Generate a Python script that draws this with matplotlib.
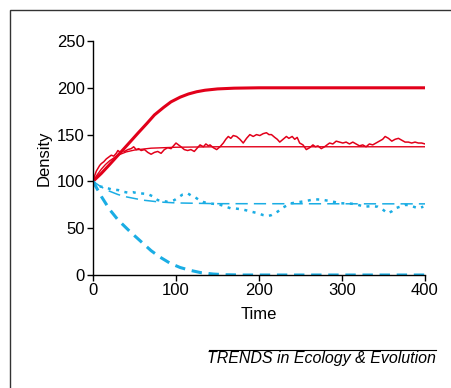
import matplotlib
matplotlib.use("Agg")
import matplotlib.pyplot as plt
from matplotlib.patches import Rectangle
from matplotlib.lines import Line2D

plt.rcParams['font.family'] = ['Liberation Sans', 'DejaVu Sans']

RED = "#E2001A"
BLUE = "#1AADE4"

# thick red: host density, no parasite
t_thick_red = [0, 10, 20, 34, 45, 54, 65, 74, 85, 94, 105, 115, 125, 135, 150, 170, 200, 400]
d_thick_red = [100, 108.5, 118, 131.7, 142.5, 151.4, 162, 171, 179, 185, 190, 193.4, 195.8, 197.4, 198.8, 199.6, 200, 200]

# thin smooth red: deterministic host
t_thin_red = [0, 5, 10, 15, 20, 30, 40, 50, 70, 100, 150, 400]
d_thin_red = [100, 107, 113, 118, 122, 128, 131.5, 133.5, 135.5, 136.5, 137, 137]

# noisy red: stochastic host
t_noisy_red = [0, 2, 4, 6, 8, 10, 13, 16, 19, 22, 25, 28, 30, 33, 36, 38, 42, 46, 49, 52,
               55, 58, 62, 66, 70, 74, 78, 82, 86, 90, 94, 97, 100, 103, 106, 110, 114,
               118, 122, 126, 129, 133, 136, 139, 141, 145, 149, 153, 157, 160, 163, 166,
               169, 173, 177, 181, 185, 189, 193, 197, 201, 205, 209, 212, 215, 219, 222,
               225, 229, 233, 236, 240, 243, 246, 249, 253, 257, 261, 265, 268, 271, 275,
               279, 282, 285, 289, 293, 297, 301, 305, 309, 313, 317, 321, 325, 329, 333,
               337, 341, 345, 349, 352, 356, 360, 364, 368, 372, 376, 380, 384, 388, 392,
               396, 400]
d_noisy_red = [100, 106, 111, 114, 117, 119, 121, 124, 126, 128, 127, 130, 133, 131, 133, 132,
               134, 135, 137, 134, 135, 133, 134, 131, 129, 131, 132, 130, 134, 136, 135, 138,
               141, 139, 137, 134, 133, 134, 132, 136, 139, 137, 140, 138, 139, 136, 134, 137,
               141, 145, 148, 146, 149, 148, 145, 141, 146, 150, 148, 150, 149, 151, 152, 150,
               150, 147, 145, 142, 145, 148, 146, 148, 145, 147, 141, 139, 134, 136, 139, 137,
               138, 135, 137, 139, 141, 140, 143, 142, 141, 142, 140, 142, 140, 138, 139, 137,
               140, 139, 141, 143, 145, 148, 146, 143, 145, 146, 144, 142, 142, 141, 142, 141,
               141, 140]

# thick blue dashed: parasite-free decline
t_thick_blue = [0, 10, 20, 30, 45, 60, 70, 80, 93, 105, 117, 130, 145, 160, 180, 400]
d_thick_blue = [100, 84, 70, 59, 46, 34, 26, 19.5, 12.5, 8, 5, 2.5, 1, 0.3, 0, 0]

# thin blue dashed: deterministic
t_thin_blue = [0, 10, 20, 30, 40, 60, 80, 100, 150, 400]
d_thin_blue = [100, 94, 89.5, 86, 83.5, 80, 78, 77, 76.2, 76]

# blue dotted: stochastic
t_dot_blue = [0, 6, 12, 18, 24, 30, 36, 42, 48, 54, 60, 66, 72, 78, 84, 90, 94, 98, 103, 108,
              114, 118, 122, 128, 133, 138, 146, 154, 160, 166, 172, 179, 185, 191, 199, 205,
              211, 215, 219, 223, 227, 233, 239, 245, 251, 259, 267, 275, 283, 291, 299, 307,
              315, 321, 327, 335, 343, 349, 355, 360, 364, 370, 376, 380, 386, 392, 398]
d_dot_blue = [100, 95, 94, 92.6, 91, 90.8, 89, 88, 88.5, 87.3, 87, 86.5, 84, 80, 79, 78.3,
              79, 80, 83, 86, 87.3, 85, 83.7, 80, 78, 76.6, 76, 74.8, 73, 71.2, 71, 70.2,
              69, 67.6, 65.9, 64, 63, 64, 65.9, 68, 71.2, 74, 76.6, 77.5, 78.3, 79.5, 80.9,
              80.5, 79.4, 78, 76.6, 76.5, 75.9, 74.5, 73, 73.5, 73, 70, 65.9, 68, 71.2, 73,
              74.8, 74.8, 73, 71.2, 73]

x_ticks = [0, 100, 200, 300, 400]
y_ticks = [0, 50, 100, 150, 200, 250]

fig = plt.figure(figsize=(4.52, 3.88), dpi=100)
ax = fig.add_axes([93 / 452, 1 - 275 / 388, 332 / 452, 234 / 388])

ax.plot(t_thin_red, d_thin_red, color=RED, lw=1.0)
ax.plot(t_noisy_red, d_noisy_red, color=RED, lw=1.1)
ax.plot(t_thick_red, d_thick_red, color=RED, lw=2.2)
ax.plot(t_thin_blue, d_thin_blue, color=BLUE, lw=1.1, dashes=(8, 4))
ax.plot(t_dot_blue, d_dot_blue, color=BLUE, lw=1.8, dashes=(1.2, 2.2))
ax.plot(t_thick_blue, d_thick_blue, color=BLUE, lw=2.2, dashes=(3.4, 2.2))

ax.set_xlim(0, 400)
ax.set_ylim(0, 250)
ax.set_xticks(x_ticks)
ax.set_yticks(y_ticks)
ax.spines['top'].set_visible(False)
ax.spines['right'].set_visible(False)
for s in ['left', 'bottom']:
    ax.spines[s].set_linewidth(1.0)
ax.tick_params(direction='out', length=4, width=1.0, labelsize=12, pad=2)
ax.set_xlabel("Time", fontsize=12, labelpad=6)
ax.set_ylabel("Density", fontsize=12, labelpad=4)

# frame and footer
fig.patches.append(Rectangle((10 / 452, -0.1), 1.2, (388 - 10) / 388 + 0.1,
                             transform=fig.transFigure, fill=False,
                             edgecolor="#333333", lw=1.0))
fig.lines.append(Line2D([209 / 452, 436 / 452], [1 - 350 / 388, 1 - 350 / 388],
                        transform=fig.transFigure, color="black", lw=0.8))
fig.text(436 / 452, 1 - 358 / 388, "TRENDS in Ecology & Evolution", ha="right",
         va="center", fontsize=11.5, style="italic")

fig.savefig("out.png", dpi=100)
